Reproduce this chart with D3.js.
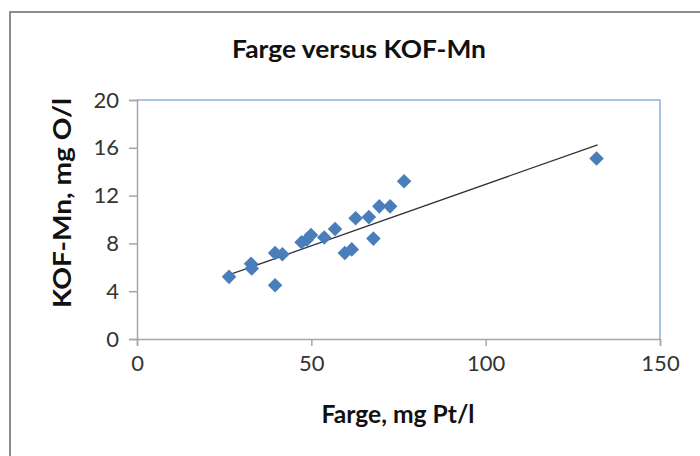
<!DOCTYPE html>
<html><head><meta charset="utf-8">
<script src="https://cdn.jsdelivr.net/npm/d3@7"></script>
<style>body{margin:0;background:#fff;}svg{display:block;font-family:Lato,"Open Sans",sans-serif;}</style>
</head><body><svg id="c" width="700" height="456"></svg>
<script>
const farge = [26.4,32.7,32.9,39.6,39.6,41.7,47.2,48.7,49.9,53.7,56.8,59.6,61.6,62.7,66.5,67.8,69.5,72.6,76.6,131.8];
const kof   = [5.2,6.3,5.9,4.5,7.2,7.1,8.1,8.3,8.7,8.5,9.2,7.2,7.5,10.1,10.2,8.4,11.1,11.1,13.2,15.1];
const trendX = [26.7,132.1];
const trendY = [5.4,16.25];
const xTicks = [0,50,100,150];
const yTicks = [0,4,8,12,16,20];
const title = "Farge versus KOF-Mn";
const xTitle = "Farge, mg Pt/l";
const yTitle = "KOF-Mn, mg O/l";

const svg = d3.select("#c");
svg.append("rect").attr("x",10).attr("y",12).attr("width",720).attr("height",480)
  .attr("fill","#fff").attr("stroke","#8c8c8c").attr("stroke-width",2);

const L=137,R=660,T=100,B=339;
const x = d3.scaleLinear().domain([0,150]).range([L,R]);
const y = d3.scaleLinear().domain([0,20]).range([B,T]);

// plot area border (blue top/right)
svg.append("path").attr("d",`M${L},${T}H${R}V${B}`).attr("fill","none")
  .attr("stroke","#8eb1de").attr("stroke-width",1.5);

const gx = svg.append("g").attr("transform",`translate(0,${B})`)
  .call(d3.axisBottom(x).tickValues(xTicks).tickSize(7).tickPadding(9));
const gy = svg.append("g").attr("transform",`translate(${L},0)`)
  .call(d3.axisLeft(y).tickValues(yTicks).tickSize(8).tickPadding(10));
[gx,gy].forEach(g=>{
  g.select(".domain").attr("stroke","#a6a6a6").attr("stroke-width",1.5);
  g.selectAll(".tick line").attr("stroke","#a6a6a6").attr("stroke-width",1.5);
  g.selectAll("text").attr("fill","#333").style("font-size","22px").style("font-family","Lato,sans-serif");
});

// trendline
svg.append("line").attr("x1",x(trendX[0])).attr("y1",y(trendY[0]))
  .attr("x2",x(trendX[1])).attr("y2",y(trendY[1]))
  .attr("stroke","#333").attr("stroke-width",1.3);

// points
const pts = farge.map((v,i)=>({x:v,y:kof[i]}));
svg.selectAll(".pt").data(pts).enter().append("path")
  .attr("class","pt")
  .attr("d",d3.symbol().type(d3.symbolDiamond2).size(135))
  .attr("transform",d=>`translate(${x(d.x)},${y(d.y)})`)
  .attr("fill","#4a7ebb");

function fitText(sel,w){ sel.attr("textLength",w).attr("lengthAdjust","spacingAndGlyphs"); }

const t = svg.append("text").attr("x",359).attr("y",58).attr("text-anchor","middle")
  .style("font-size","25px").style("font-weight","bold").attr("fill","#111").text(title);
fitText(t,254);

const xt = svg.append("text").attr("x",398).attr("y",423).attr("text-anchor","middle")
  .style("font-size","24px").style("font-weight","bold").attr("fill","#111").text(xTitle);
fitText(xt,153);

const yt = svg.append("text").attr("transform","translate(71,203) rotate(-90)").attr("text-anchor","middle")
  .style("font-size","24px").style("font-weight","bold").attr("fill","#111").text(yTitle);
fitText(yt,210);
</script></body></html>
